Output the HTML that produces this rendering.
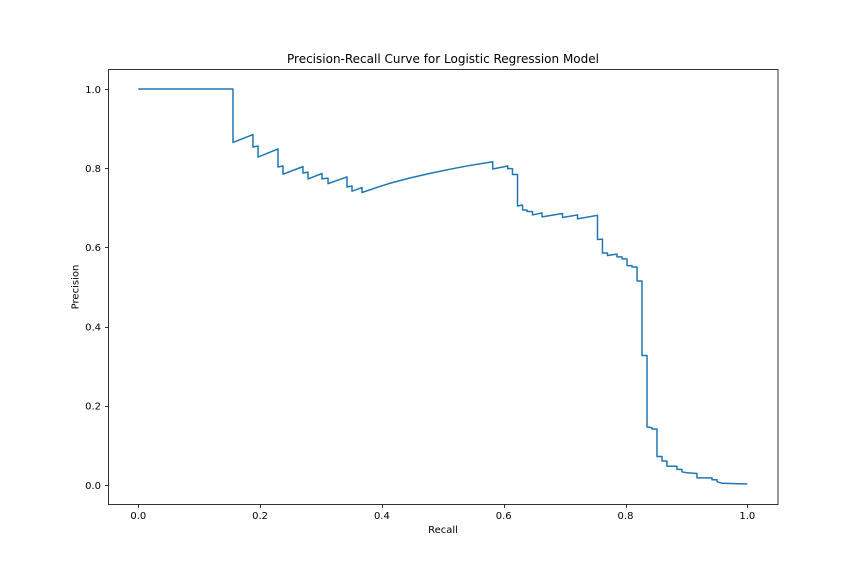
<!DOCTYPE html>
<html>
<head>
<meta charset="utf-8">
<title>Precision-Recall Curve</title>
<style>
html,body{margin:0;padding:0;background:#fff;width:864px;height:576px;overflow:hidden}
svg{display:block}
text{font-family:"DejaVu Sans","Liberation Sans",sans-serif;fill:#000}
</style>
</head>
<body>
<svg id="chart" xmlns="http://www.w3.org/2000/svg" width="864" height="576" viewBox="0 0 864 576">
  <rect x="0" y="0" width="864" height="576" fill="#fff"/>
  <g id="curve-layer"></g>
  <rect x="108.5" y="69.5" width="669.5" height="435" fill="none" stroke="#000" stroke-width="0.8"/>
  <g id="x-ticks"></g>
  <g id="y-ticks"></g>
  <text x="443" y="63" font-size="12" text-anchor="middle">Precision-Recall Curve for Logistic Regression Model</text>
  <text x="443" y="533" font-size="10" text-anchor="middle">Recall</text>
  <text x="0" y="0" font-size="10" text-anchor="middle" transform="translate(78.5 287) rotate(-90)">Precision</text>
</svg>
<script>
const xTickValues = [0, 0.2, 0.4, 0.6, 0.8, 1.0];
const yTickValues = [0, 0.2, 0.4, 0.6, 0.8, 1.0];
const xTickLabels = ["0.0", "0.2", "0.4", "0.6", "0.8", "1.0"];
const yTickLabels = ["0.0", "0.2", "0.4", "0.6", "0.8", "1.0"];
const recall = [
  0, 0.1555, 0.1555, 0.1883, 0.1883, 0.1966, 0.1966, 0.2294, 0.2294, 0.2376, 0.2376,
  0.2704, 0.2704, 0.2787, 0.2787, 0.3016, 0.3016, 0.3115, 0.3115, 0.3427, 0.3427,
  0.3509, 0.3509, 0.3673, 0.3673, 0.39, 0.4133, 0.445, 0.479, 0.512, 0.5447, 0.582, 0.582, 0.6066, 0.6066,
  0.6144, 0.6144, 0.6227, 0.6227, 0.6309, 0.6309, 0.6383, 0.6383, 0.6473, 0.6473,
  0.6629, 0.6629, 0.6966, 0.6966, 0.7212, 0.7212, 0.754, 0.754, 0.7622, 0.7622,
  0.7704, 0.7704, 0.786, 0.786, 0.7943, 0.7943, 0.8025, 0.8025, 0.8107, 0.8107,
  0.819, 0.819, 0.8271, 0.8271, 0.8353, 0.8353, 0.8435, 0.8435, 0.8517, 0.8517, 0.86, 0.86,
  0.868, 0.868, 0.8845, 0.8845, 0.8927, 0.8927, 0.901, 0.9174, 0.9174, 0.942, 0.942,
  0.9503, 0.9503, 0.9585, 1.0
];
const precision = [
  1, 1, 0.865, 0.885, 0.8535, 0.856, 0.828, 0.8485, 0.803, 0.8055, 0.785,
  0.804, 0.788, 0.79, 0.773, 0.7866, 0.773, 0.775, 0.761, 0.778, 0.7525,
  0.755, 0.742, 0.751, 0.7386, 0.7505, 0.762, 0.775, 0.787, 0.7975, 0.807, 0.8164, 0.798, 0.8056, 0.799,
  0.799, 0.784, 0.784, 0.7045, 0.707, 0.6944, 0.6944, 0.6907, 0.6907, 0.682,
  0.687, 0.677, 0.6856, 0.6755, 0.682, 0.672, 0.681, 0.62, 0.621, 0.586,
  0.586, 0.5795, 0.583, 0.576, 0.576, 0.571, 0.571, 0.554, 0.554, 0.5505,
  0.5505, 0.515, 0.515, 0.327, 0.327, 0.1465, 0.145, 0.1414, 0.1414, 0.072, 0.072, 0.0606,
  0.0606, 0.0475, 0.0475, 0.0395, 0.0395, 0.033, 0.031, 0.029, 0.018, 0.018, 0.0133,
  0.0133, 0.0083, 0.0043, 0.0025
];

const SVG_NS = "http://www.w3.org/2000/svg";
function xScale(v) { return 138.3 + v * 609; }
function yScale(v) { return 485 - v * 396; }

const curve = document.createElementNS(SVG_NS, "path");


curve.setAttribute("d", recall.map(function (r, i) {
  return (i ? "L" : "M") + xScale(r).toFixed(2) + " " + yScale(precision[i]).toFixed(2);
}).join(" "));
curve.setAttribute("fill", "none");
curve.setAttribute("stroke", "#1f77b4");
curve.setAttribute("stroke-width", "1.5");
curve.setAttribute("stroke-linejoin", "round");
document.getElementById("curve-layer").appendChild(curve);

const xGroup = document.getElementById("x-ticks");
xTickValues.forEach(function (v, i) {
  const px = Math.round(xScale(v)) + 0.5;
  const tick = document.createElementNS(SVG_NS, "line");
  
  
  tick.setAttribute("x1", px);
  tick.setAttribute("x2", px);
  tick.setAttribute("y1", 504.5);
  tick.setAttribute("y2", 508);
  tick.setAttribute("stroke", "#000");
  tick.setAttribute("stroke-width", "0.8");
  xGroup.appendChild(tick);
  const label = document.createElementNS(SVG_NS, "text");
  
  
  label.setAttribute("x", xScale(v));
  label.setAttribute("y", 519);
  label.setAttribute("font-size", "10");
  label.setAttribute("text-anchor", "middle");
  label.textContent = xTickLabels[i];
  xGroup.appendChild(label);
});

const yGroup = document.getElementById("y-ticks");
yTickValues.forEach(function (v, i) {
  const py = Math.round(yScale(v)) + 0.5;
  const tick = document.createElementNS(SVG_NS, "line");
  
  
  tick.setAttribute("x1", 105);
  tick.setAttribute("x2", 108.5);
  tick.setAttribute("y1", py);
  tick.setAttribute("y2", py);
  tick.setAttribute("stroke", "#000");
  tick.setAttribute("stroke-width", "0.8");
  yGroup.appendChild(tick);
  const label = document.createElementNS(SVG_NS, "text");
  
  
  label.setAttribute("x", 101);
  label.setAttribute("y", yScale(v) + 3.8);
  label.setAttribute("font-size", "10");
  label.setAttribute("text-anchor", "end");
  label.textContent = yTickLabels[i];
  yGroup.appendChild(label);
});
</script>
</body>
</html>
